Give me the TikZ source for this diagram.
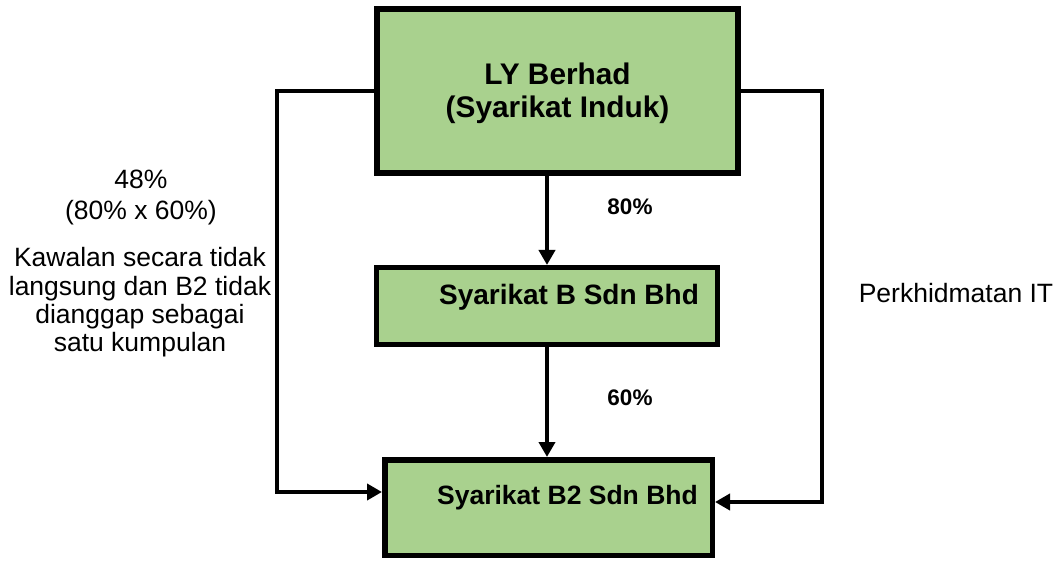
\documentclass[tikz,border=0pt]{standalone}
\usepackage{fontspec}
\setmainfont{Liberation Sans}
\usetikzlibrary{arrows.meta}
\definecolor{boxgreen}{RGB}{169,209,142}
\tikzset{
  entity/.style={draw=black, fill=boxgreen, rectangle, inner sep=0pt},
  boxtext/.style={font=\bfseries\fontsize{28}{33}\selectfont, align=center, inner sep=0pt},
  pct/.style={font=\bfseries\fontsize{22.5}{26}\selectfont, inner sep=0pt},
  note/.style={font=\fontsize{26.5}{28.3}\selectfont, align=center, inner sep=0pt},
  conn/.style={line width=4.5pt, -{Triangle[length=15pt,width=16pt]}},
}
\begin{document}
\begin{tikzpicture}[x=1pt,y=-1pt]
\useasboundingbox (0,0) rectangle (1058,561);
% boxes
\node[entity, line width=6pt, minimum width=361pt, minimum height=164pt] (ly) at (557.5,91) {};
\node[entity, line width=5pt, minimum width=341pt, minimum height=77pt] (B) at (547,306) {};
\node[entity, line width=5.5pt, minimum width=327.5pt, minimum height=95.5pt] (B2) at (548.5,507.5) {};
% box texts
\node[boxtext, font=\bfseries\fontsize{29.8}{33}\selectfont] (tly) at (557.5,93) {LY Berhad\\(Syarikat Induk)};
\node[boxtext] (tB) at (569,297) {Syarikat B Sdn Bhd};
\node[boxtext, font=\bfseries\fontsize{26.5}{30}\selectfont] (tB2) at (567.5,498) {Syarikat B2 Sdn Bhd};
% helper coordinates
\coordinate (lc) at (277,0);
\coordinate (rc) at (822,0);
% connectors
\draw[conn] (ly.south -| B.north) -- (B.north);
\draw[conn] (B.south) -- (B.south |- B2.north);
\draw[conn] ([xshift=3pt]ly.west) -- (ly.west -| lc) |- ([yshift=15.5pt]B2.west);
\draw[conn] ([xshift=-3pt]ly.east) -- (ly.east -| rc) |- ([yshift=5.5pt]B2.east);
% labels
\node[pct] (p80) at (630,207) {80\%};
\node[pct] (p60) at (630,398) {60\%};
\node[note, font=\fontsize{26.5}{31}\selectfont] (n48) at (141,197.5) {48\%\\(80\% x 60\%)};
\node[note] (nk) at (140,302.5) {Kawalan secara tidak\\langsung dan B2 tidak\\dianggap sebagai\\satu kumpulan};
\node[note] (nit) at (956,293) {Perkhidmatan IT};
\end{tikzpicture}
\end{document}
